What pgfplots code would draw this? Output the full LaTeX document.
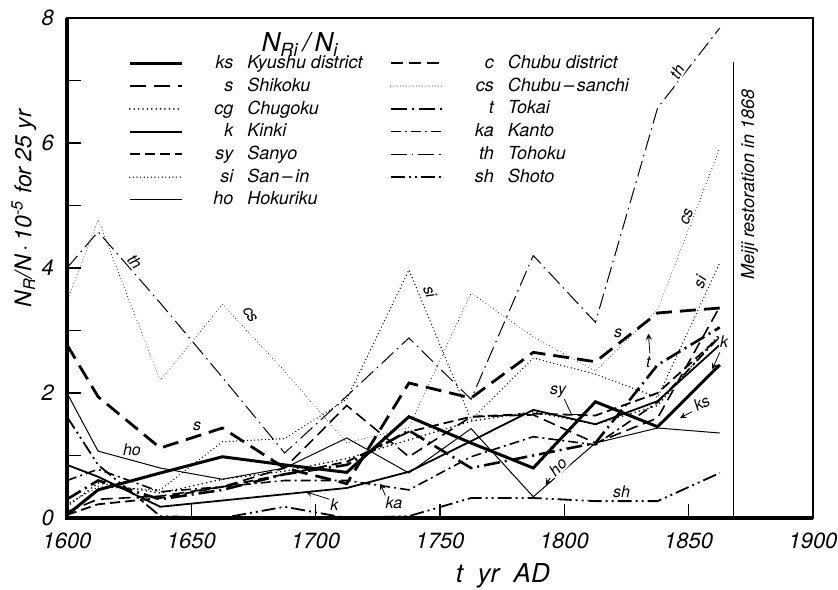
\documentclass[border=0pt]{standalone}
\usepackage{fontspec}
\setmainfont{TeX Gyre Heros}
\usepackage{pgfplots}
\usepackage{pgfplotstable}
\pgfplotsset{compat=1.18}
\pgfplotstableread{
x ks s cg k sy si ho c cs t ka th sh
1600 0.05 2.77 0.18 0.85 0.05 0.22 2.00 0.10 3.46 0.30 0.60 4.00 1.62
1612.5 0.45 1.94 0.56 0.66 0.22 0.50 1.07 0.30 4.77 0.60 0.78 4.58 0.85
1637.5 0.72 1.12 0.40 0.18 0.32 0.45 0.80 0.35 2.20 0.30 0.42 3.44 0.03
1662.5 0.98 1.44 0.62 0.28 0.50 1.22 0.62 0.50 3.42 0.45 0.50 2.25 0.00
1687.5 0.85 0.80 0.75 0.38 0.70 1.27 0.80 0.80 2.35 0.70 0.60 1.04 0.18
1712.5 0.73 0.55 0.95 0.48 0.90 1.90 1.28 1.80 1.20 0.85 0.60 1.95 0.00
1737.5 1.62 2.16 1.25 0.74 1.38 3.97 0.72 0.98 1.45 1.40 0.45 2.88 0.03
1762.5 1.20 1.92 1.55 1.23 1.62 1.57 1.43 1.62 3.60 0.80 0.98 1.90 0.32
1787.5 0.80 2.65 1.70 1.73 1.67 2.56 0.34 1.65 2.90 1.00 1.30 4.20 0.32
1812.5 1.86 2.50 1.50 1.50 1.64 2.30 1.20 1.20 2.35 1.20 1.17 3.13 0.27
1837.5 1.46 3.28 1.80 1.87 2.00 1.93 1.44 1.60 3.33 2.45 1.85 6.56 0.27
1862.5 2.45 3.36 2.95 2.77 2.90 4.08 1.36 3.38 5.92 3.05 2.90 7.84 0.72
}\data
\newcommand{\ent}[2]{\makebox[24pt][r]{#1}\hspace{7pt}\makebox[70pt][l]{#2}}
\begin{document}
\begin{tikzpicture}[font=\itshape]
\begin{axis}[
  scale only axis, width=373pt, height=250pt,
  xmin=1600, xmax=1900, ymin=0, ymax=8,
  xtick={1600,1650,...,1900}, ytick={0,2,4,6,8},
  minor ytick={1,3,5,7},
  /pgf/number format/assume math mode=true,
  /pgf/number format/1000 sep={},
  tick label style={font=\fontsize{11}{13}\selectfont\itshape},
  xticklabel style={yshift=-4pt},
  yticklabel style={xshift=-3pt},
  xtick pos=bottom, ytick pos=left, tick align=inside,
  major tick length=7pt, minor tick length=7pt,
  tick style={line width=0.6pt, black},
  axis line style={line width=0.8pt},
  clip=false,
  legend columns=2,
  legend cell align=left,
  legend image code/.code={\draw[#1] (0pt,0pt) -- (26pt,0pt);},
  legend style={draw=none, fill=none, inner sep=0pt, at={(axis cs:1624.5,7.43)}, anchor=north west,
    font=\fontsize{9}{10}\selectfont\itshape, row sep=2.2pt,
    nodes={inner xsep=1pt, inner ysep=0.5pt}},
]
\addplot[black, line width=1.5pt] table[x=x,y=ks] {\data};
\addlegendentry{\ent{ks}{Kyushu district}}
\addplot[black, line width=0.8pt, dash pattern=on 6pt off 3pt] table[x=x,y=c] {\data};
\addlegendentry{\ent{c}{Chubu district}}
\addplot[black, line width=1.4pt, dash pattern=on 8pt off 4pt] table[x=x,y=s] {\data};
\addlegendentry{\ent{s}{Shikoku}}
\addplot[black, line width=0.45pt, line cap=round, dash pattern=on 0pt off 1.6pt] table[x=x,y=cs] {\data};
\addlegendentry{\ent{cs}{Chubu{\,}--{\,}sanchi}}
\addplot[black, line width=0.9pt, line cap=round, dash pattern=on 0pt off 2.2pt] table[x=x,y=cg] {\data};
\addlegendentry{\ent{cg}{Chugoku}}
\addplot[black, line width=1.3pt, dash pattern=on 8pt off 2.5pt on 1pt off 2.5pt] table[x=x,y=t] {\data};
\addlegendentry{\ent{t}{Tokai}}
\addplot[black, line width=0.9pt] table[x=x,y=k] {\data};
\addlegendentry{\ent{k}{Kinki}}
\addplot[black, line width=0.8pt, dash pattern=on 5pt off 2pt on 1pt off 2pt] table[x=x,y=ka] {\data};
\addlegendentry{\ent{ka}{Kanto}}
\addplot[black, line width=0.9pt, dash pattern=on 5pt off 2.5pt] table[x=x,y=sy] {\data};
\addlegendentry{\ent{sy}{Sanyo}}
\addplot[black, line width=0.5pt, dash pattern=on 8pt off 2.5pt on 0.8pt off 2.5pt] table[x=x,y=th] {\data};
\addlegendentry{\ent{th}{Tohoku}}
\addplot[black, line width=0.7pt, line cap=round, dash pattern=on 0pt off 1.8pt] table[x=x,y=si] {\data};
\addlegendentry{\ent{si}{San{\,}--{\,}in}}
\addplot[black, line width=0.9pt, dash pattern=on 7pt off 2pt on 1pt off 2pt on 1pt off 2pt] table[x=x,y=sh] {\data};
\addlegendentry{\ent{sh}{Shoto}}
\addplot[black, line width=0.5pt] table[x=x,y=ho] {\data};
\addlegendentry{\ent{ho}{Hokuriku}}

% frame emphasis
\draw[line width=1.6pt] (rel axis cs:0,1) -- (rel axis cs:0,0) -- (rel axis cs:1,0);
% Meiji line
\draw[line width=0.7pt] (axis cs:1868,0) -- (axis cs:1868,7.3);
\node[rotate=90, font=\fontsize{9}{10}\selectfont\itshape] at (axis cs:1874.5,5.33) {Meiji restoration in 1868};
% legend title
\node[font=\fontsize{13}{15}\selectfont\itshape] at (axis cs:1693.7,7.57) {N\textsubscript{Ri}\,/\,N\textsubscript{i}};
% inline labels
\begin{scope}[every node/.style={font=\fontsize{8}{9}\selectfont\itshape, fill=white, inner sep=0.6pt}]
\node[rotate=-50] at (axis cs:1627.3,4.10) {th};
\node[rotate=-60] at (axis cs:1673.6,3.25) {cs};
\node at (axis cs:1652.3,1.46) {s};
\node at (axis cs:1626.1,1.09) {ho};
\node at (axis cs:1707.5,0.22) {k};
\node at (axis cs:1731.5,0.24) {ka};
\node[rotate=-70] at (axis cs:1746,3.62) {si};
\node at (axis cs:1821.6,2.96) {s};
\node at (axis cs:1797.5,2.02) {sy};
\node[rotate=45] at (axis cs:1797.4,0.82) {ho};
\node at (axis cs:1823,0.42) {sh};
\node at (axis cs:1833.8,2.50) {t};
\node at (axis cs:1864.3,2.82) {k};
\node[rotate=30] at (axis cs:1855.2,1.84) {ks};
\node[rotate=60] at (axis cs:1845.3,7.14) {th};
\node[rotate=70] at (axis cs:1849.3,4.82) {cs};
\node[rotate=70] at (axis cs:1854.5,3.78) {si};
\end{scope}
\begin{scope}[line width=0.4pt, >=stealth]
\draw[->] (axis cs:1705.5,0.30) -- (axis cs:1696,0.42);
\draw[->] (axis cs:1728,0.36) -- (axis cs:1726,0.55);
\draw (axis cs:1800,1.90) -- (axis cs:1803,1.65);
\draw (axis cs:1800.5,1.65) -- (axis cs:1805.5,1.65);
\draw[->] (axis cs:1794.3,0.64) -- (axis cs:1792.5,0.53);
\draw[->] (axis cs:1834.4,2.64) -- (axis cs:1833.8,2.95);
\draw[->] (axis cs:1862.5,2.65) -- (axis cs:1859.5,2.38);
\draw[->] (axis cs:1851.3,1.70) -- (axis cs:1846.5,1.60);
\end{scope}
% axis labels
\node[rotate=90, font=\fontsize{11.5}{13}\selectfont\itshape] at (axis cs:1582.7,4.95) {N\textsubscript{R}/N\,\textperiodcentered\,10\textsuperscript{-5} for 25 yr};
\node[font=\fontsize{13}{15}\selectfont\itshape] at (axis cs:1775.3,-0.93) {t \ yr \ AD};
\end{axis}
\pgfresetboundingbox
\path[use as bounding box] ([xshift=-33.5pt,yshift=-35.5pt]current axis.south west) rectangle ([xshift=12.5pt,yshift=9pt]current axis.north east);
\end{tikzpicture}
\end{document}
